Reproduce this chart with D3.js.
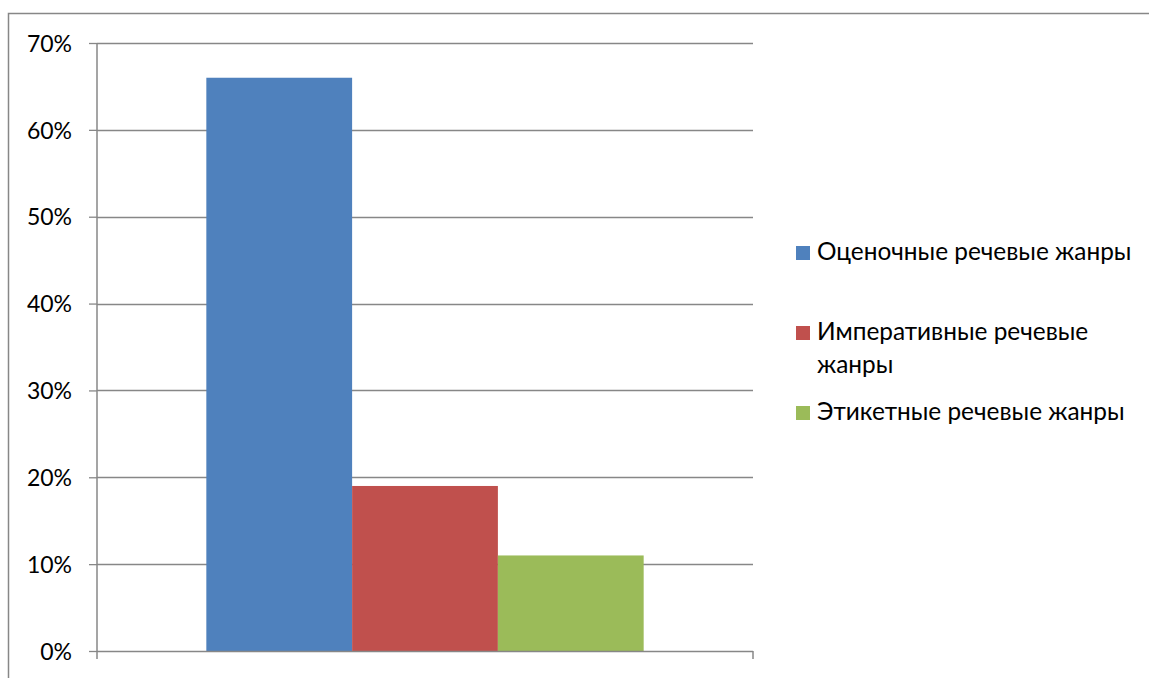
<!DOCTYPE html>
<html><head><meta charset="utf-8">
<script src="https://cdn.jsdelivr.net/npm/d3@7"></script>
<style>body{margin:0;background:#fff}svg{display:block}</style>
</head><body><svg id="c" width="1149" height="678"></svg>
<script>
const categories = ["Оценочные речевые жанры", "Императивные речевые жанры", "Этикетные речевые жанры"];
const values = [0.66, 0.19, 0.11];
const colors = ["#4F81BD", "#C0504D", "#9BBB59"];
const yTicks = [0, 0.1, 0.2, 0.3, 0.4, 0.5, 0.6, 0.7];
const legendLines = [["Оценочные речевые жанры"], ["Императивные речевые", "жанры"], ["Этикетные речевые жанры"]];

(function () {
const svg = d3.select("#c");
const font = "Lato, 'Open Sans', sans-serif";
const grey = "#878787";
svg.append("rect").attr("x", 8.5).attr("y", 13.5).attr("width", 1200).attr("height", 700)
  .attr("fill", "none").attr("stroke", grey).attr("stroke-width", 1.5);

const pL = 97, pR = 753, pT = 43, pB = 651;
const y = d3.scaleLinear().domain([0, 0.7]).range([pB, pT]);
const x0 = d3.scaleBand().domain(["g"]).range([pL, pR]);
const groupW = x0.bandwidth() * 3 / 4.5;
const x1 = d3.scaleBand().domain(categories).range([pL + (x0.bandwidth() - groupW) / 2, pL + (x0.bandwidth() + groupW) / 2]);

svg.append("g").selectAll("line").data(yTicks.slice(1)).join("line")
  .attr("x1", pL).attr("x2", pR).attr("y1", d => Math.round(y(d)) + 0.5).attr("y2", d => Math.round(y(d)) + 0.5)
  .attr("stroke", grey).attr("stroke-width", 1.3);

const yAxis = d3.axisLeft(y).tickValues(yTicks).tickFormat(d3.format(".0%")).tickSize(8).tickPadding(17);
const ga = svg.append("g").attr("transform", `translate(${pL},0)`).call(yAxis);
ga.select(".domain").attr("stroke", grey).attr("stroke-width", 1.5).attr("d", `M0,${pT}V${pB}`);
ga.selectAll(".tick line").attr("stroke", grey).attr("stroke-width", 1.3);
ga.selectAll(".tick text").attr("font-family", font).attr("font-size", 23).attr("fill", "#000").attr("dy", "0.36em");

svg.append("g").selectAll("rect").data(values).join("rect")
  .attr("x", (d, i) => x1(categories[i])).attr("width", x1.bandwidth())
  .attr("y", d => y(d)).attr("height", d => y(0) - y(d))
  .attr("fill", (d, i) => colors[i]);

const gx = svg.append("g").attr("transform", `translate(0,${pB})`);
gx.append("line").attr("x1", pL).attr("x2", pR).attr("y1", 0.5).attr("y2", 0.5).attr("stroke", grey).attr("stroke-width", 1.5);
gx.selectAll("line.t").data([pL, pR]).join("line").attr("class", "t")
  .attr("x1", d => d).attr("x2", d => d).attr("y1", 0).attr("y2", 8).attr("stroke", grey).attr("stroke-width", 1.5);

const leg = svg.append("g");
const legY = [260, 340, 420];
legendLines.forEach((lines, i) => {
  leg.append("rect").attr("x", 796).attr("y", legY[i] - 14).attr("width", 14).attr("height", 14).attr("fill", colors[i]);
  const t = leg.append("text").attr("font-family", font).attr("font-size", 24.4).attr("fill", "#000");
  lines.forEach((l, j) => t.append("tspan").attr("x", 817).attr("y", legY[i] + j * 33).text(l));
});
})();
</script></body></html>
